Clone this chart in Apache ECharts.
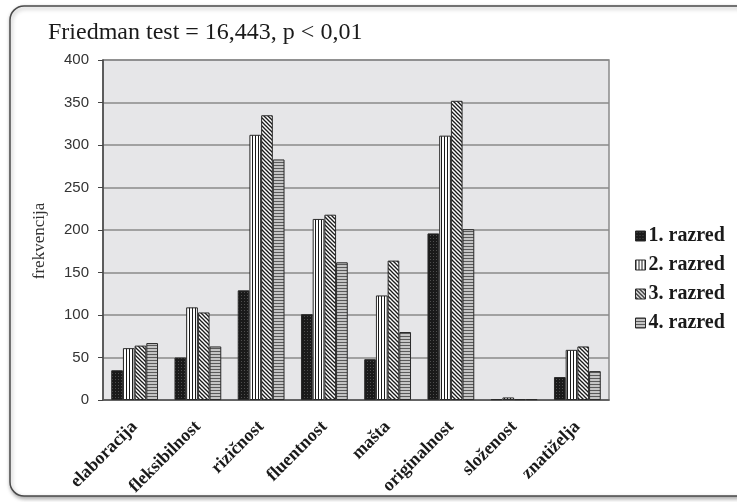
<!DOCTYPE html>
<html>
<head>
<meta charset="utf-8">
<script src="https://cdn.jsdelivr.net/npm/echarts@6/dist/echarts.min.js"></script>
<style>
html,body{margin:0;padding:0;background:#fff;}
#chart{width:737px;height:502px;}
</style>
</head>
<body>
<div id="chart"></div>
<script>
var categories = ['elaboracija','fleksibilnost','rizičnost','fluentnost','mašta','originalnost','složenost','znatiželja'];
var seriesNames = ['1. razred','2. razred','3. razred','4. razred'];
var razred1 = [35, 50, 129, 101, 48, 196, 1, 27];
var razred2 = [61, 109, 312, 213, 123, 311, 3, 59];
var razred3 = [64, 103, 335, 218, 164, 352, 1, 63];
var razred4 = [67, 63, 283, 162, 80, 201, 1, 34];
var yTicks = [0, 50, 100, 150, 200, 250, 300, 350, 400];
var titleText = 'Friedman test = 16,443, p < 0,01';
var yName = 'frekvencija';

function pat(w, h, draw) {
  var c = document.createElement('canvas');
  c.width = w; c.height = h;
  var ctx = c.getContext('2d');
  draw(ctx, w, h);
  return {image: c, repeat: 'repeat'};
}
var p1 = pat(3, 3, function (ctx) {
  ctx.fillStyle = '#1a1a1a'; ctx.fillRect(0, 0, 3, 3);
  ctx.fillStyle = '#4e4e4e'; ctx.fillRect(1, 1, 1, 1);
});
var p2 = pat(3, 1, function (ctx) {
  ctx.fillStyle = '#ffffff'; ctx.fillRect(0, 0, 3, 1);
  ctx.fillStyle = '#1a1a1a'; ctx.fillRect(0, 0, 1, 1);
});
var p3 = pat(4, 4, function (ctx) {
  ctx.fillStyle = '#ffffff'; ctx.fillRect(0, 0, 4, 4);
  ctx.strokeStyle = '#1a1a1a'; ctx.lineWidth = 1.3;
  for (var k = -1; k <= 1; k++) {
    ctx.beginPath(); ctx.moveTo(k * 4 - 1, -1); ctx.lineTo(k * 4 + 5, 5); ctx.stroke();
  }
});
var p4 = pat(1, 3, function (ctx) {
  ctx.fillStyle = '#c4c4c4'; ctx.fillRect(0, 0, 1, 3);
  ctx.fillStyle = '#5a5a5a'; ctx.fillRect(0, 0, 1, 1);
});
var patterns = [p1, p2, p3, p4];
var dataSets = [razred1, razred2, razred3, razred4];

var chart = echarts.init(document.getElementById('chart'), null, {renderer: 'canvas'});
var series = dataSets.map(function (d, i) {
  return {
    name: seriesNames[i],
    type: 'bar',
    data: d,
    barGap: '0%',
    barCategoryGap: '26%',
    itemStyle: {color: patterns[i], borderColor: '#2a2a2a', borderWidth: 1},
    emphasis: {disabled: true},
    animation: false
  };
});

chart.setOption({
  animation: false,
  graphic: [{
    type: 'rect', z: -10,
    shape: {x: 10, y: 6, width: 740, height: 490, r: 14},
    style: {fill: '#fff', stroke: '#4a4a4a', lineWidth: 1.5, shadowColor: 'rgba(0,0,0,0.35)', shadowBlur: 4, shadowOffsetY: 2, shadowOffsetX: 1}
  }, {
    type: 'text', x: 40, y: 241, rotation: Math.PI / 2,
    style: {text: yName, fontFamily: 'Liberation Serif', fontSize: 17, fill: '#333', align: 'center', verticalAlign: 'middle'}
  }],
  title: {
    text: titleText, left: 43, top: 16,
    textStyle: {fontFamily: 'Liberation Serif', fontSize: 24, fontWeight: 'normal', color: '#1a1a1a'}
  },
  legend: {
    orient: 'vertical', left: 630, top: 221, itemGap: 9,
    itemWidth: 10, itemHeight: 10, icon: 'rect',
    data: seriesNames,
    textStyle: {fontFamily: 'Liberation Serif', fontSize: 20, fontWeight: 'bold', color: '#1a1a1a', padding: [0, 0, 0, -2]},
    itemStyle: {borderColor: '#2a2a2a', borderWidth: 1}
  },
  grid: {left: 103, top: 60, right: 128, bottom: 102, show: true, backgroundColor: '#e6e6e8', borderColor: '#8a8a8a', borderWidth: 1.5},
  xAxis: {
    type: 'category', data: categories,
    axisLine: {lineStyle: {color: '#555', width: 1.5}},
    axisTick: {show: false},
    axisLabel: {rotate: 45, interval: 0, margin: 24, fontFamily: 'Liberation Serif', fontSize: 18, fontWeight: 'bold', color: '#1a1a1a'}
  },
  yAxis: {
    type: 'value', min: 0, max: 400, interval: 50,
    axisLine: {show: true, lineStyle: {color: '#444', width: 1.5}},
    axisTick: {show: true, inside: false, length: 5, lineStyle: {color: '#444'}},
    axisLabel: {margin: 14, fontFamily: 'Liberation Sans', fontSize: 15, color: '#333',
      formatter: function (v) { return yTicks.indexOf(v) >= 0 ? String(v) : ''; }},
    splitLine: {lineStyle: {color: '#8a8a8a', width: 1.5}}
  },
  series: series
});
</script>
</body>
</html>
